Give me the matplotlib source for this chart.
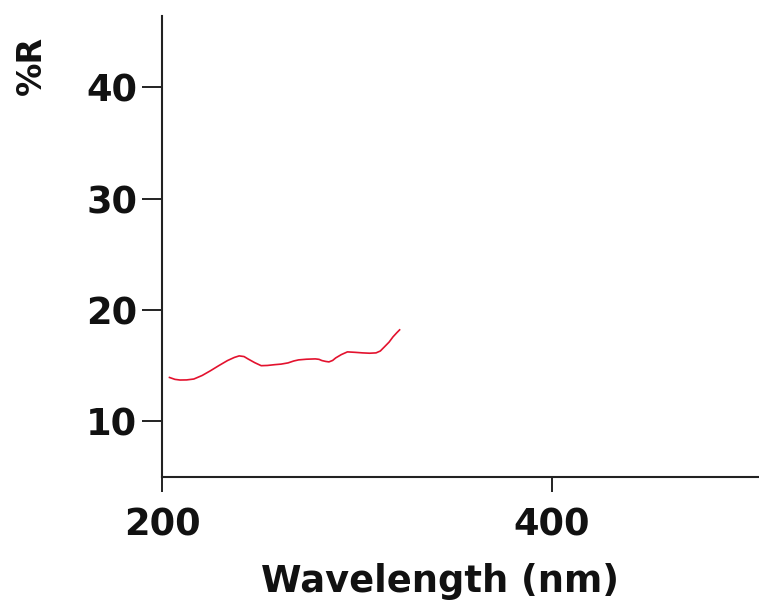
import matplotlib
matplotlib.use("Agg")
import matplotlib.pyplot as plt

# Data
wavelength_nm = [203.7, 206.5, 209.1, 212.5, 216.2, 220.5, 224.8, 229.0, 233.5, 237.0,
                 239.5, 242.0, 244.0, 247.5, 250.8, 254.0, 257.7, 261.0, 264.6, 267.5,
                 270.0, 274.0, 278.6, 280.5, 282.0, 284.0, 285.6, 287.5, 289.1, 292.0,
                 295.1, 299.0, 302.9, 306.5, 309.8, 312.0, 314.1, 316.5, 318.5, 320.5, 321.9]
reflectance = [13.92, 13.75, 13.69, 13.70, 13.78, 14.10, 14.53, 14.98, 15.44, 15.72,
               15.86, 15.80, 15.59, 15.25, 14.98, 15.00, 15.07, 15.12, 15.23, 15.40,
               15.50, 15.56, 15.59, 15.55, 15.44, 15.36, 15.32, 15.45, 15.68, 15.98,
               16.22, 16.18, 16.13, 16.10, 16.13, 16.30, 16.67, 17.10, 17.57, 17.95, 18.20]

xticks = [200, 400]
yticks = [10, 20, 30, 40]
x_label = "Wavelength (nm)"
y_label = "%R"

fig = plt.figure(figsize=(7.59, 6.03), dpi=100)
ax = fig.add_axes([0.2138, 0.2095, 0.7862, 0.7645])

ax.plot(wavelength_nm, reflectance, color="#e3122e", linewidth=1.2)

ax.set_xlim(200, 506.5)
ax.set_ylim(5, 46.45)
ax.set_xticks(xticks)
ax.set_yticks(yticks)

for s in ["top", "right"]:
    ax.spines[s].set_visible(False)
for s in ["left", "bottom"]:
    ax.spines[s].set_linewidth(1.5)
    ax.spines[s].set_color("#222222")

font = dict(family="DejaVu Sans", weight="bold")
ax.tick_params(axis="y", length=14.4, width=1.4, pad=3.5, colors="#222222",
               labelsize=26.5, labelcolor="#111111")
ax.tick_params(axis="x", length=10.8, width=1.4, pad=11, colors="#222222",
               labelsize=26.5, labelcolor="#111111")
for lab in ax.get_xticklabels() + ax.get_yticklabels():
    lab.set_fontfamily("DejaVu Sans")
    lab.set_fontweight("bold")

fig.text(440 / 759, 1 - 582 / 603, x_label, ha="center", va="center",
         fontsize=26.5, color="#111111", **font)
fig.text(31 / 759, 1 - 65 / 603, y_label, ha="center", va="center", rotation=90,
         fontsize=24, color="#111111", **font)

fig.savefig("out.png", dpi=100)
